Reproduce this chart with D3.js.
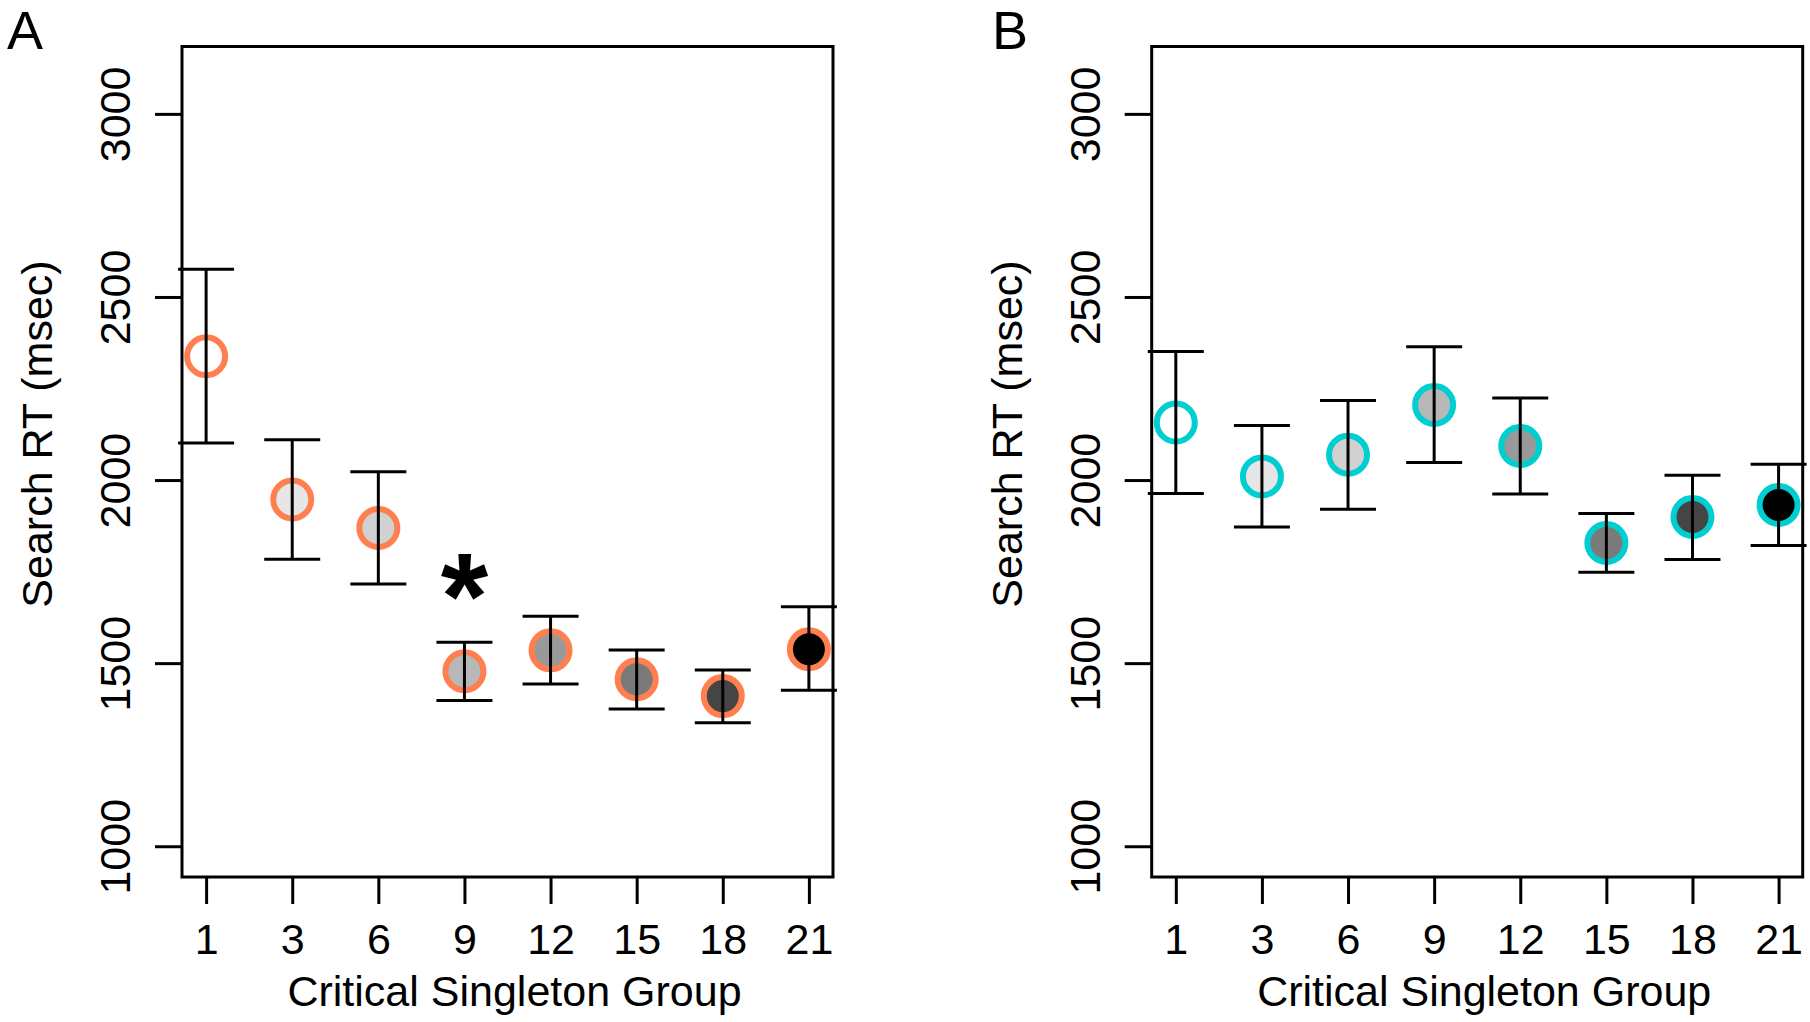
<!DOCTYPE html>
<html>
<head>
<meta charset="utf-8">
<script src="https://cdn.jsdelivr.net/npm/d3@7"></script>
<style>
  html, body { margin: 0; padding: 0; background: #ffffff; }
  svg { display: block; }
  text { font-family: "Liberation Sans", Arial, Helvetica, sans-serif; fill: #000; }
</style>
</head>
<body>
<svg id="chart" width="1810" height="1022"></svg>
<script>
// ---------------- data ----------------
const groups = ["1", "3", "6", "9", "12", "15", "18", "21"];
const yTicks = [1000, 1500, 2000, 2500, 3000];
const yLimits = [1000, 3100];

const meanA  = [2338, 1947, 1869, 1478, 1535, 1456, 1410, 1538];
const upperA = [2576, 2110, 2023, 1557, 1628, 1536, 1481, 1654];
const lowerA = [2101, 1784, 1716, 1398, 1443, 1375, 1337, 1426];

const meanB  = [2157, 2010, 2069, 2205, 2093, 1828, 1899, 1932];
const upperB = [2351, 2149, 2217, 2364, 2224, 1909, 2013, 2043];
const lowerB = [1963, 1872, 1920, 2048, 1962, 1748, 1783, 1821];

const pointFills = ["none", "#E6E6E6", "#D1D1D1", "#B8B8B8", "#999999", "#7A7A7A", "#454545", "#000000"];
const starGroups = ["9"]; // significance marker in panel A

const xTitle = "Critical Singleton Group";
const yTitle = "Search RT (msec)";

// ---------------- layout ----------------
const svg = d3.select("#chart");
const plotTop = 46.5, plotBottom = 877;
const panels = [
  { letter: "A", left: 182, right: 833, mean: meanA, upper: upperA, lower: lowerA, ring: "#FF7F50", letterX: 7, stars: starGroups },
  { letter: "B", left: 1151.7, right: 1802.7, mean: meanB, upper: upperB, lower: lowerB, ring: "#00CED1", letterX: 992, stars: [] }
];

const span = yLimits[1] - yLimits[0];
const yScale = d3.scaleLinear()
  .domain([yLimits[0] - 0.04 * span, yLimits[1] + 0.04 * span])
  .range([plotBottom, plotTop]);

panels.forEach(p => {
  const n = groups.length;
  const xIdx = d3.scaleLinear()
    .domain([1 - 0.04 * (n - 1), n + 0.04 * (n - 1)])
    .range([p.left, p.right]);
  const x = i => xIdx(i + 1);

  const g = svg.append("g");

  // points (drawn first so the error bars run over them)
  g.selectAll("circle.pt")
    .data(p.mean)
    .join("circle")
    .attr("class", "pt")
    .attr("cx", (d, i) => x(i))
    .attr("cy", d => yScale(d))
    .attr("r", 19)
    .attr("fill", (d, i) => pointFills[i])
    .attr("stroke", p.ring)
    .attr("stroke-width", 6);

  // error bars
  const eb = g.selectAll("g.eb")
    .data(p.mean.map((m, i) => ({ i, lo: p.lower[i], hi: p.upper[i] })))
    .join("g")
    .attr("class", "eb")
    .attr("stroke", "#000")
    .attr("stroke-width", 3);
  eb.append("line")
    .attr("x1", d => x(d.i)).attr("x2", d => x(d.i))
    .attr("y1", d => yScale(d.lo)).attr("y2", d => yScale(d.hi));
  eb.append("line")
    .attr("x1", d => x(d.i) - 28).attr("x2", d => x(d.i) + 28)
    .attr("y1", d => yScale(d.hi)).attr("y2", d => yScale(d.hi));
  eb.append("line")
    .attr("x1", d => x(d.i) - 28).attr("x2", d => x(d.i) + 28)
    .attr("y1", d => yScale(d.lo)).attr("y2", d => yScale(d.lo));

  // significance star
  p.stars.forEach(s => {
    const i = groups.indexOf(s);
    g.append("text")
      .attr("x", x(i))
      .attr("y", yScale(p.upper[i]) - 4)
      .attr("text-anchor", "middle")
      .attr("font-weight", "bold")
      .attr("font-size", 122)
      .text("*");
  });

  // box
  g.append("rect")
    .attr("x", p.left).attr("y", plotTop)
    .attr("width", p.right - p.left).attr("height", plotBottom - plotTop)
    .attr("fill", "none").attr("stroke", "#000").attr("stroke-width", 3);

  // x axis
  const xAxis = d3.axisBottom(xIdx)
    .tickValues(d3.range(1, n + 1))
    .tickFormat(v => groups[v - 1])
    .tickSize(27)
    .tickPadding(0);
  const gx = g.append("g").attr("transform", `translate(0,${plotBottom})`).call(xAxis);
  gx.select(".domain").remove();
  gx.selectAll(".tick line").attr("stroke", "#000").attr("stroke-width", 3);
  gx.selectAll(".tick text")
    .attr("y", 77).attr("dy", null)
    .attr("fill", "#000")
    .attr("font-size", 43)
    .attr("font-family", "'Liberation Sans', Arial, sans-serif");

  // y axis
  const yAxis = d3.axisLeft(yScale)
    .tickValues(yTicks)
    .tickFormat(d3.format("d"))
    .tickSize(27)
    .tickPadding(0);
  const gy = g.append("g").attr("transform", `translate(${p.left},0)`).call(yAxis);
  gy.select(".domain").remove();
  gy.selectAll(".tick line").attr("stroke", "#000").attr("stroke-width", 3);
  gy.selectAll(".tick text")
    .attr("x", null).attr("dy", null)
    .attr("fill", "#000")
    .attr("text-anchor", "middle")
    .attr("transform", "translate(-52,0) rotate(-90)")
    .attr("font-size", 43)
    .attr("font-family", "'Liberation Sans', Arial, sans-serif");

  // axis titles
  g.append("text")
    .attr("x", (p.left + p.right) / 2 + 7)
    .attr("y", 1006)
    .attr("text-anchor", "middle")
    .attr("font-size", 43)
    .text(xTitle);
  g.append("text")
    .attr("transform", `translate(${p.left - 130},434) rotate(-90)`)
    .attr("text-anchor", "middle")
    .attr("font-size", 43)
    .text(yTitle);

  // panel letter
  g.append("text")
    .attr("x", p.letterX)
    .attr("y", 49)
    .attr("font-size", 54)
    .text(p.letter);
});
</script>
</body>
</html>
